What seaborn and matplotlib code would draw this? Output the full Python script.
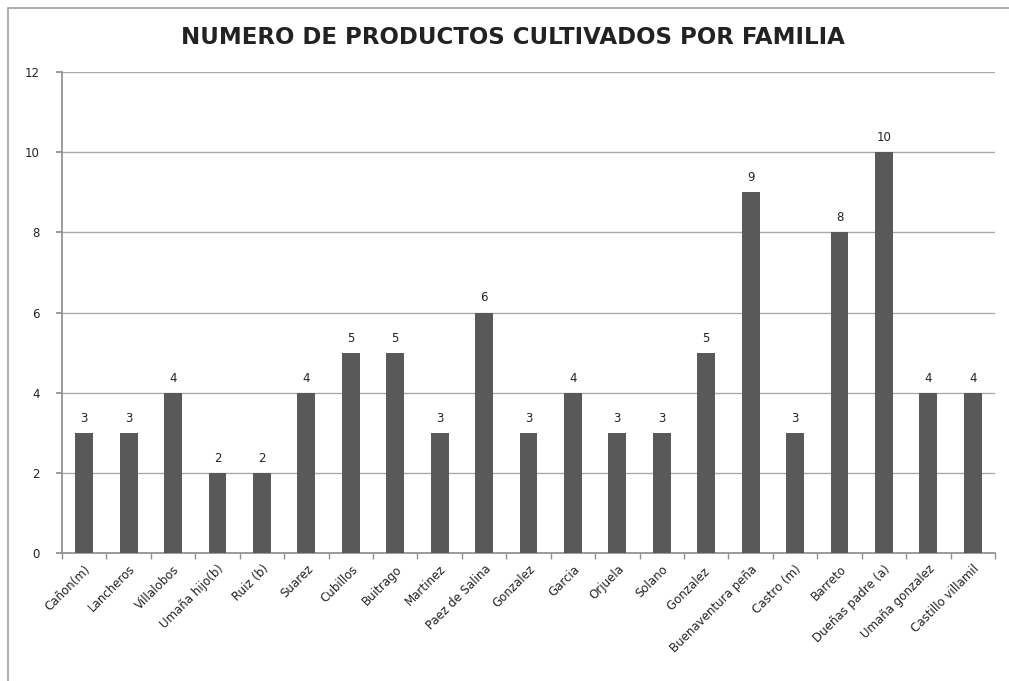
import matplotlib
matplotlib.use("Agg")
import matplotlib.pyplot as plt
import seaborn as sns
import pandas as pd
import numpy as np
from matplotlib.patches import Rectangle

familias = ["Cañon(m)", "Lancheros", "Villalobos", "Umaña hijo(b)", "Ruiz (b)", "Suarez",
            "Cubillos", "Buitrago", "Martinez", "Paez de Salina", "Gonzalez", "Garcia",
            "Orjuela", "Solano", "Gonzalez ", "Buenaventura peña", "Castro (m)", "Barreto",
            "Dueñas padre (a)", "Umaña gonzalez", "Castillo villamil"]
productos = [3, 3, 4, 2, 2, 4, 5, 5, 3, 6, 3, 4, 3, 3, 5, 9, 3, 8, 10, 4, 4]

df = pd.DataFrame({"familia": familias, "productos": productos})

sns.set_theme(style="white")
plt.rcParams['font.family'] = ['DejaVu Sans']

fig = plt.figure(figsize=(10.09, 6.81), dpi=100)
ax = fig.add_axes([62/1009, 1-553/681, (995-62)/1009, (553-72)/681])

sns.barplot(data=df, x="familia", y="productos", color="#595959", width=0.4,
            saturation=1, linewidth=0, ax=ax, zorder=3)

n = len(familias)
ax.set_xlim(-0.5, n-0.5)
ax.set_ylim(0, 12)
ax.set_yticks(range(0, 13, 2))
ax.grid(axis="y", color="#aaaaaa", linewidth=1, zorder=0)
ax.set_axisbelow(True)
for s in ["top", "right"]:
    ax.spines[s].set_visible(False)
ax.spines["left"].set_color("#909090")
ax.spines["bottom"].set_color("#909090")
ax.set_xlabel("")
ax.set_ylabel("")
ax.set_xticks(range(n))
ax.set_xticklabels(familias, rotation=45, ha="right", rotation_mode="anchor", fontsize=8.5, color="#222222")
ax.set_xticks(np.arange(-0.5, n, 1), minor=True)
ax.tick_params(axis="x", which="major", length=0, pad=7)
ax.tick_params(axis="x", which="minor", length=4, color="#909090", direction="out", bottom=True)
ax.tick_params(axis="y", length=4, color="#909090", direction="out", left=True, labelsize=8.5, pad=12, labelcolor="#222222")

for i, v in enumerate(productos):
    ax.text(i, v + 0.2, str(v), ha="center", va="bottom", fontsize=8.5, color="#222222")

fig.text(513/1009, 1-38/681, "NUMERO DE PRODUCTOS CULTIVADOS POR FAMILIA", ha="center", va="center",
         fontsize=16.5, fontweight="bold", color="#222222")

fig.patches.append(Rectangle((8/1009, -0.1), 1.2, 1-8/681+0.1, transform=fig.transFigure,
                             fill=False, edgecolor="#a0a0a0", linewidth=1.2))

fig.savefig("out.png", dpi=100, facecolor="white")
